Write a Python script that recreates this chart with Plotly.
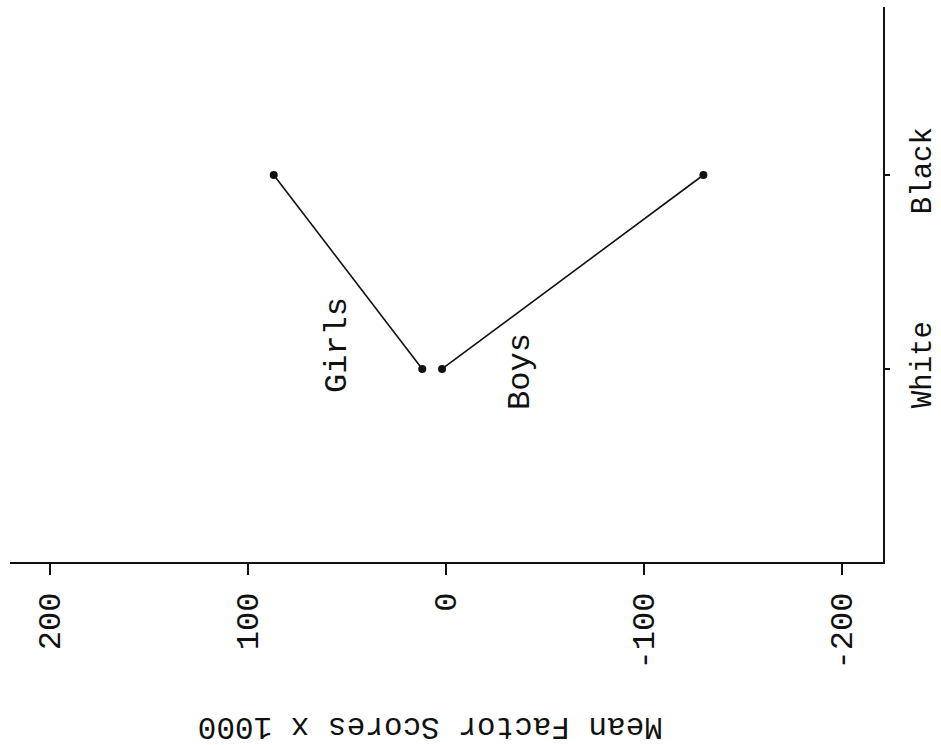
import plotly.graph_objects as go

# Race categories on the vertical axis
categories = ["White", "Black"]

# Mean factor scores (x 1000) by sex
girls_scores = [12, 87]
boys_scores = [2, -130]

# Horizontal axis ticks
x_tick_values = [200, 100, 0, -100, -200]
x_tick_labels = ["200", "100", "0", "-100", "-200"]

axis_title = "Mean Factor Scores x 1000"
font_family = "Liberation Mono, Courier New, monospace"
ink = "#111111"

fig = go.Figure()

for name, scores in (("Girls", girls_scores), ("Boys", boys_scores)):
    fig.add_trace(go.Scatter(
        x=scores,
        y=categories,
        mode="lines+markers",
        name=name,
        line=dict(color=ink, width=1.6),
        marker=dict(color=ink, size=8),
        showlegend=False,
    ))

# Series labels written alongside the lines
fig.add_annotation(x=54.5, y=0.124, xref="x", yref="y", text="Girls",
                   textangle=-90, showarrow=False,
                   font=dict(family=font_family, size=32, color=ink))
fig.add_annotation(x=-37.9, y=-0.015, xref="x", yref="y", text="Boys",
                   textangle=-90, showarrow=False,
                   font=dict(family=font_family, size=32, color=ink))

# Axis title set upside down below the tick labels
fig.add_annotation(x=0.481, y=-0.296, xref="paper", yref="paper",
                   text=axis_title, textangle=180, showarrow=False,
                   xanchor="center", yanchor="middle",
                   font=dict(family=font_family, size=31, color=ink))

fig.update_layout(
    width=941, height=745,
    margin=dict(l=10, r=58, t=7, b=183),
    paper_bgcolor="white",
    plot_bgcolor="white",
    font=dict(family=font_family, size=32, color=ink),
    xaxis=dict(
        range=[220.2, -220.7],
        tickvals=x_tick_values,
        ticktext=x_tick_labels,
        tickangle=-90,
        ticks="outside", ticklen=11, tickwidth=1.6, tickcolor=ink,
        showline=True, linecolor=ink, linewidth=1.6,
        showgrid=False, zeroline=False,
        ticklabelstandoff=5,
        automargin=False,
    ),
    yaxis=dict(
        type="category",
        categoryorder="array",
        categoryarray=categories,
        range=[-0.995, 1.866],
        side="right",
        tickangle=-90,
        tickfont=dict(family=font_family, size=29, color=ink),
        ticks="outside", ticklen=5, tickwidth=1.6, tickcolor=ink,
        showline=True, linecolor=ink, linewidth=1.6,
        showgrid=False, zeroline=False,
        ticklabelstandoff=6,
        automargin=False,
    ),
)

fig.write_html("out.html")
